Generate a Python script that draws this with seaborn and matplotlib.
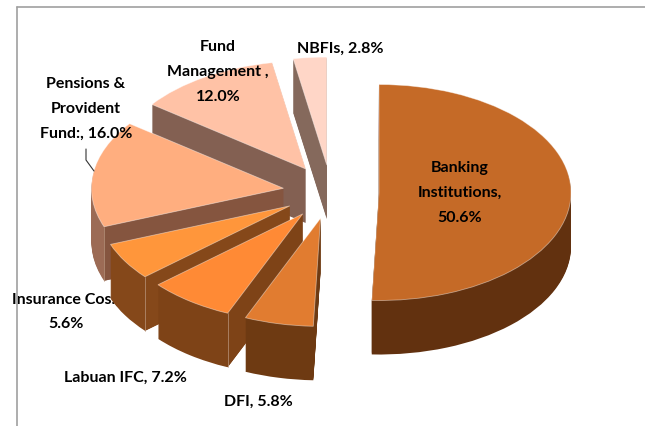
import matplotlib
matplotlib.use("Agg")
import numpy as np
import matplotlib.pyplot as plt
from matplotlib.lines import Line2D
import seaborn as sns

# ---- data ----
categories = ["Banking\nInstitutions,", "DFI,", "Labuan IFC,", "Insurance Cos.,",
              "Pensions &\nProvident\nFund:,", "Fund\nManagement ,", "NBFIs,"]
shares = [50.6, 5.8, 7.2, 5.6, 16.0, 12.0, 2.8]
share_labels = ["50.6%", "5.8%", "7.2%", "5.6%", "16.0%", "12.0%", "2.8%"]

# ---- styles ----
top_colors = ["#C56A27", "#E17C30", "#FF8A35", "#FF963B", "#FFAE7F", "#FFC2A6", "#FFD6C7"]
outer_wall = ["#62310F", "#6E3A12", "#7E4317", "#85481A", "#9C6B55", "#836052", "#85695C"]
cut_wall = ["#62310F", "#6E3A12", "#7E4317", "#85481A", "#85553F", "#836052", "#85695C"]
seamed = [False, False, True, True, True, False, False]
stack_rank = [3, 6, 5, 4, 2, 1, 0]   # back to front
W, H = 645, 427
CX, CY, RX, RY, DEPTH = 331, 193, 192, 108, 54
EXPLODE = 0.25

sns.set_theme(style="white")
plt.rcParams["font.family"] = ["Lato", "DejaVu Sans"]

fig = plt.figure(figsize=(W / 100, H / 100), dpi=100, facecolor="white")
ax = fig.add_axes([0, 0, 1, 1])


def depth_pie(offset, colors, z, lw, edge):
    wedges, _ = ax.pie(shares, colors=colors, startangle=90, counterclock=False,
                       explode=[EXPLODE] * len(shares), radius=1,
                       center=(0, -offset / RY), frame=False,
                       wedgeprops={"linewidth": lw, "edgecolor": edge})
    for w, r in zip(wedges, stack_rank):
        w.set_zorder(r * 10 + z)
        w.set_clip_on(False)
    return wedges


for d in range(DEPTH, 0, -1):
    depth_pie(d, outer_wall, 1 - d / DEPTH, 0, "none")

tops = depth_pie(0, top_colors, 4, 0.6, (1, 1, 1, 0.45))

# the lower cut face of each slice, extruded from the slice's own geometry
drop = DEPTH / RY
for w, wall, seam, r in zip(tops, cut_wall, seamed, stack_rank):
    if not seam:
        continue
    cx, cy = w.center
    a = np.deg2rad(w.theta2)
    ox, oy = cx + np.cos(a), cy + np.sin(a)
    ax.fill([cx, ox, ox, cx], [cy, oy, oy - drop, cy - drop], color=wall,
            lw=0, zorder=r * 10 + 2)
    ax.plot([ox, ox], [oy, oy - drop], color="#B9967E", lw=0.5, zorder=r * 10 + 3)

ax.set_aspect("auto")
ax.set_xlim(-CX / RX, (W - CX) / RX)
ax.set_ylim((CY - H) / RY, CY / RY)
ax.axis("off")


def px(x, y):
    return (x - CX) / RX, (CY - y) / RY


label_pos = [(460, 193), (258, 402), (125, 378), (66, 312), (86, 109), (218, 72), (340, 49)]
label_sep = ["\n", " ", " ", "\n", " ", "\n", " "]
for cat, lab, pos, sep in zip(categories, share_labels, label_pos, label_sep):
    x, y = px(*pos)
    z = 25 if cat.startswith("Insurance") else 200
    ax.text(x, y, f"{cat}{sep}{lab}", ha="center", va="center", fontsize=11.5,
            fontweight="bold", color="black", linespacing=2.0, zorder=z)

# leader line for the pensions label
lx, ly = zip(*[px(86, 150), px(86, 161), px(94, 172)])
ax.plot(lx, ly, color="#333333", lw=0.8, zorder=200, clip_on=False)

# chart frame
fig.add_artist(Line2D([17 / W, 17 / W], [0, 1 - 8 / H], color="#A0A0A0", lw=1.2))
fig.add_artist(Line2D([17 / W, 1], [1 - 8 / H, 1 - 8 / H], color="#A0A0A0", lw=1.2))

fig.savefig("out.png", dpi=100, facecolor="white")
